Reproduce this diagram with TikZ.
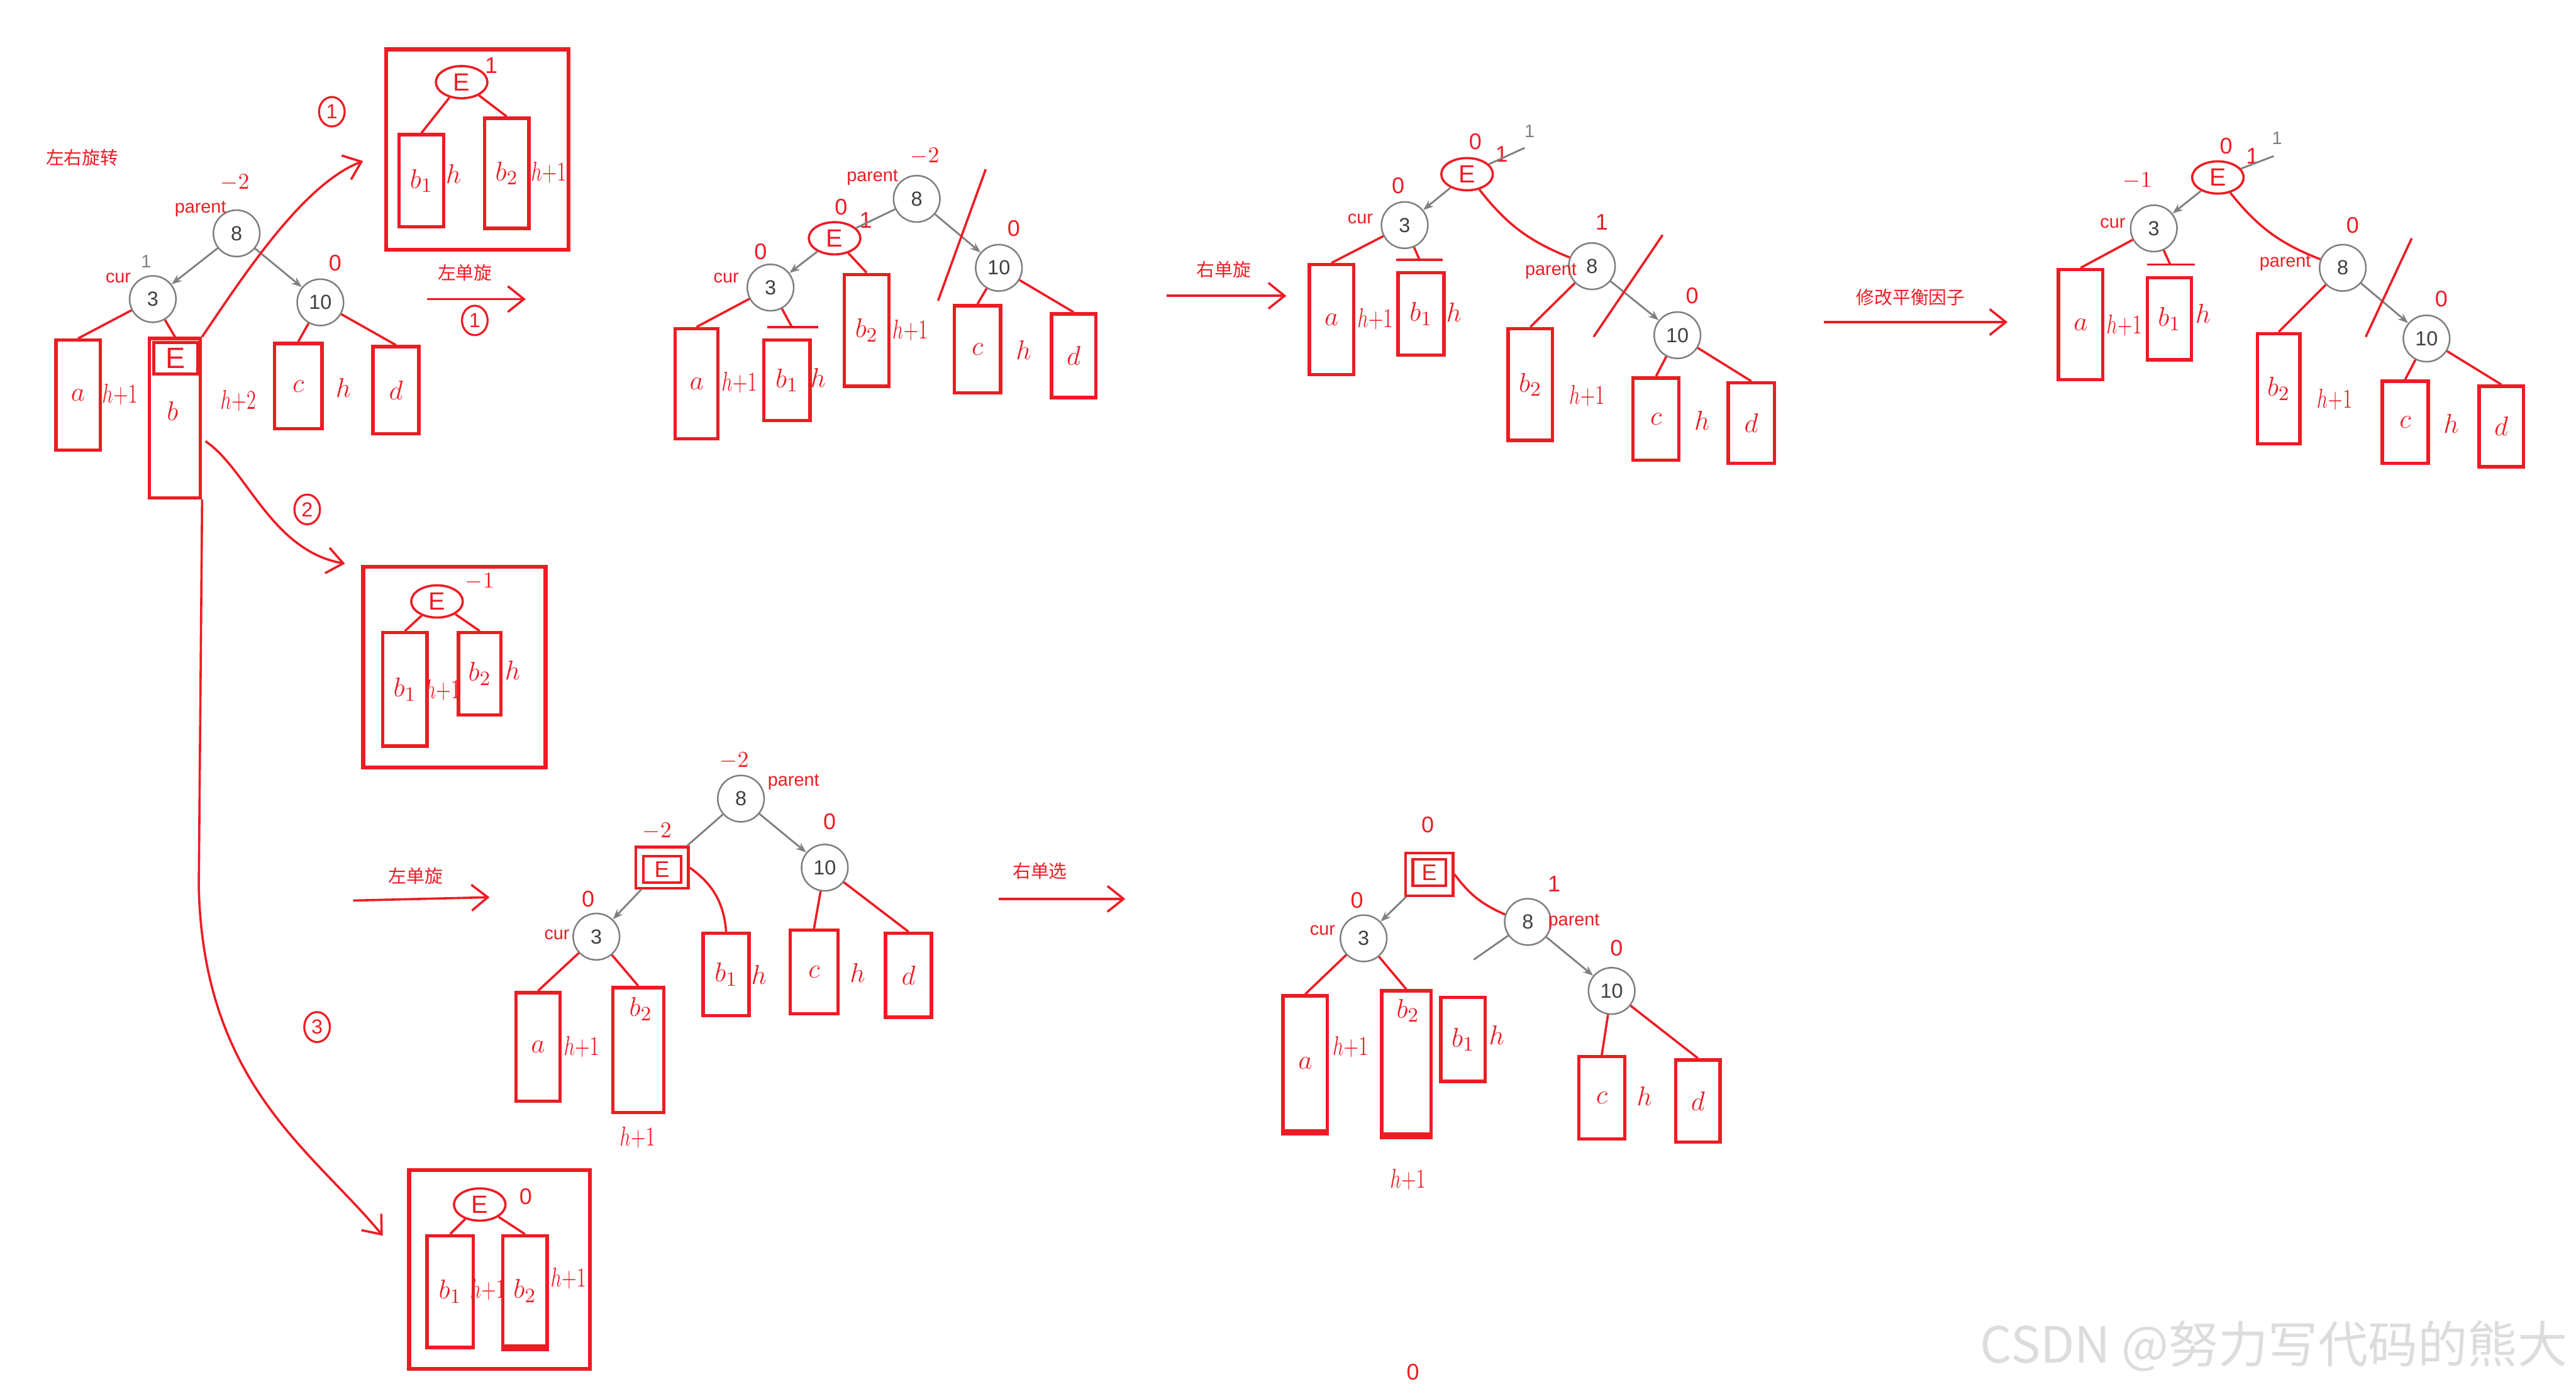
\documentclass[tikz,border=0pt]{standalone}
\usepackage{fontspec}
\usepackage{graphicx}
\setmainfont{Liberation Sans}
\newfontfamily\cjk{Noto Sans CJK SC}
\usetikzlibrary{arrows.meta,shapes.geometric}
\definecolor{pen}{HTML}{ED1C24}
\definecolor{ring}{HTML}{7F7F7F}
\definecolor{mark}{HTML}{DCDCDC}
\newcommand{\hpo}{\scalebox{0.72}[1]{$h{+}1$}}
\newcommand{\hpt}{\scalebox{0.72}[1]{$h{+}2$}}

\begin{document}
\begin{tikzpicture}[x=0.255mm,y=-0.255mm,
  sz/.style 2 args={minimum width=#1*0.255mm,minimum height=#2*0.255mm},
  num/.style={circle,draw=ring,line width=0.7pt,fill=white,minimum size=7.2mm,inner sep=0pt,font=\fontsize{9}{9}\selectfont,text=black!75},
  sub/.style={rectangle,draw=pen,line width=1.5pt,inner sep=0pt,text=pen,font=\fontsize{13}{13}\selectfont},
  frame/.style={rectangle,draw=pen,line width=1.8pt,inner sep=0pt},
  oval/.style={ellipse,draw=pen,line width=1pt,inner sep=0.5pt,minimum width=8mm,minimum height=5mm,text=pen,font=\fontsize{11}{11}\selectfont},
  tag/.style={text=pen,font=\fontsize{8}{8}\selectfont,inner sep=1pt},
  bf/.style={text=pen,font=\fontsize{10}{10}\selectfont,inner sep=1pt},
  hw/.style={text=pen,font=\fontsize{13}{13}\selectfont,inner sep=1pt},
  circno/.style={ellipse,draw=pen,line width=0.9pt,inner sep=1.5pt,text=pen,font=\fontsize{9}{9}\selectfont},
  link/.style={draw=pen,line width=1pt},
  ptr/.style={draw=ring,line width=0.8pt,-{Stealth[length=1.6mm]}},
  flow/.style={draw=pen,line width=1pt,-{Straight Barb[length=2.5mm,width=4mm]}}]
\useasboundingbox (0,0) rectangle (1568,845);

% start tree
\node[tag] (title) at (50,96) {\cjk 左右旋转};
\node[num] (p1) at (144,142) {8};
\node[num] (c1) at (93,182) {3};
\node[num] (r1) at (195,184) {10};
\node[tag] (lp1) at (122,127) {parent};
\node[tag] (lc1) at (72,169) {cur};
\node[bf] (f8a) at (143,111) {$-2$};
\node[tag,text=ring] (f3a) at (89,159) {1};
\node[bf] (f10a) at (204,160) {0};
\node[sub,sz={27}{67}] (a1) at (47.5,240.5) {$a$};
\node[sub,sz={31}{97}] (b1) at (106.5,254.5) {};
\node[sub,sz={27}{19}] (e1) at (107,218) {E};
\node[sub,draw=none] (b1t) at (105,250) {$b$};
\node[sub,sz={29}{52}] (cc1) at (181.5,235) {$c$};
\node[sub,sz={28}{53}] (d1) at (241,237.5) {$d$};
\node[hw] (ha1) at (73,240) {\hpo};
\node[hw] (hb1) at (145,244) {\hpt};
\node[hw] (hc1) at (209,236) {$h$};
\draw[ptr] (p1) -- (c1); \draw[ptr] (p1) -- (r1);
\draw[link] (c1) -- (a1.north); \draw[link] (c1) -- (b1.north);
\draw[link] (r1) -- (cc1.north); \draw[link] (r1) -- (d1.north);

% case 1
\node[frame,sz={111}{122}] (fr1) at (290.5,91) {};
\node[oval] (ea) at (281,50) {E};
\node[bf] (fea) at (299,40) {1};
\node[sub,sz={27}{56}] (b11) at (256.5,110) {$b_1$};
\node[sub,sz={27}{67}] (b12) at (308.5,105.5) {$b_2$};
\node[hw] (h11) at (276,106) {$h$};
\node[hw] (h12) at (334,105) {\hpo};
\draw[link] (ea) -- (b11.north); \draw[link] (ea) -- (b12.north);
\node[circno] (n1) at (202,68) {1};
\coordinate (tip1) at (221,98);
\draw[flow] (b1.north east) .. controls (150,165) and (185,112) .. (tip1);

% case 2
\node[frame,sz={111}{122}] (fr2) at (276.5,406) {};
\node[oval] (eb) at (266,366) {E};
\node[bf] (feb) at (292,354) {$-1$};
\node[sub,sz={27}{69}] (b21) at (246.5,419.5) {$b_1$};
\node[sub,sz={26}{50}] (b22) at (292,410) {$b_2$};
\node[hw] (h21) at (269.5,420) {\hpo};
\node[hw] (h22) at (312,408) {$h$};
\draw[link] (eb) -- (b21.north); \draw[link] (eb) -- (b22.north);
\node[circno] (n2) at (187,310) {2};
\coordinate (tip2) at (210,343);
\draw[flow] (b1.east) ++(2,14) .. controls (150,285) and (165,335) .. (tip2);

% case 3
\node[frame,sz={110}{121}] (fr3) at (304,772.5) {};
\node[oval] (ec) at (292,733) {E};
\node[bf] (fec) at (320,728) {0};
\node[sub,sz={28}{68}] (b31) at (274,786) {$b_1$};
\node[sub,sz={27}{67}] (b32) at (319.5,785.5) {$b_2$};
\draw[pen,line width=3pt] (b32.south west) -- (b32.south east);
\node[hw] (h31) at (297,785) {\hpo};
\node[hw] (h32) at (346,778) {\hpo};
\draw[link] (ec) -- (b31.north); \draw[link] (ec) -- (b32.north);
\node[circno] (n3) at (193,625) {3};
\coordinate (tip3) at (233,752);
\draw[flow] (b1.south east) -- (121,540) .. controls (124,660) and (190,700) .. (tip3);

% arrow to second tree
\node[tag] (lt1) at (283,166) {\cjk 左单旋};
\coordinate (s1) at (260,182); \coordinate (s1e) at (320,182);
\draw[flow] (s1) -- (s1e);
\node[circno] (n1b) at (289,195) {1};

% second tree
\node[num] (p2) at (558,121) {8};
\node[oval] (e2) at (508,145) {E};
\node[num] (c2) at (469,175) {3};
\node[num] (r2) at (608,163) {10};
\node[tag] (lp2) at (531,108) {parent};
\node[tag] (lc2) at (442,169) {cur};
\node[bf] (f8b) at (563,95) {$-2$};
\node[bf] (feb2) at (527,134) {1};
\node[bf] (feb3) at (512,126) {0};
\node[bf] (f3b) at (463,153) {0};
\node[bf] (f10b) at (617,139) {0};
\draw[draw=ring,line width=0.8pt] (p2) -- (e2); \draw[ptr] (e2) -- (c2); \draw[ptr] (p2) -- (r2);
\draw[link] (600,103) -- (571,183);
\node[sub,sz={26}{67}] (a2) at (424,233.5) {$a$};
\node[sub,sz={28}{49}] (b21x) at (479,231.5) {$b_1$};
\node[sub,sz={27}{68}] (b22x) at (527.5,201) {$b_2$};
\node[sub,sz={28}{53}] (cc2) at (595,212.5) {$c$};
\node[sub,sz={27}{51}] (d2) at (653.5,216.5) {$d$};
\coordinate (bar2) at (482,199);
\draw[link] (bar2) ++(-15,0) -- ++(31,0);
\node[hw] (ha2) at (450,233) {\hpo};
\node[hw] (hb2) at (498,230) {$h$};
\node[hw] (hc2) at (554,201) {\hpo};
\node[hw] (hd2) at (623,213) {$h$};
\draw[link] (c2) -- (a2.north); \draw[link] (c2) -- (bar2);
\draw[link] (e2) -- (b22x.north);
\draw[link] (r2) -- (cc2.north); \draw[link] (r2) -- (d2.north);

% arrow to third tree
\node[tag] (lt2) at (745,164) {\cjk 右单旋};
\coordinate (s2) at (710,180); \coordinate (s2e) at (783,180);
\draw[flow] (s2) -- (s2e);

% third tree
\node[oval] (e3) at (893,106) {E};
\node[num] (c3) at (855,137) {3};
\node[num] (p3) at (969,162) {8};
\node[num] (r3) at (1021,204) {10};
\node[tag] (lp3) at (944,165) {parent};
\node[tag] (lc3) at (828,133) {cur};
\node[bf] (fe3) at (898,86) {0};
\node[bf] (fe3b) at (914,94) {1};
\node[tag,text=ring] (fg3) at (931,80) {1};
\node[bf] (f3c) at (851,113) {0};
\node[bf] (f8c) at (975,135) {1};
\node[bf] (f10c) at (1030,180) {0};
\coordinate (up3) at (928,90);
\draw[draw=ring,line width=0.8pt] (e3) -- (up3);
\draw[ptr] (e3) -- (c3); \draw[ptr] (p3) -- (r3);
\draw[link] (e3) to[bend right=15] (p3);
\draw[link] (1012,143) -- (970,205);
\node[sub,sz={27}{67}] (a3) at (810.5,194.5) {$a$};
\node[sub,sz={28}{50}] (b31x) at (865,191) {$b_1$};
\node[sub,sz={27}{68}] (b32x) at (931.5,234) {$b_2$};
\node[sub,sz={28}{50}] (cc3) at (1008,255) {$c$};
\node[sub,sz={28}{49}] (d3) at (1066,257.5) {$d$};
\coordinate (bar3) at (864,158);
\draw[link] (bar3) ++(-14,0) -- ++(28,0);
\node[hw] (ha3) at (837,194) {\hpo};
\node[hw] (hb3) at (885,190) {$h$};
\node[hw] (hc3) at (966,241) {\hpo};
\node[hw] (hd3) at (1036,256) {$h$};
\draw[link] (c3) -- (a3.north); \draw[link] (c3) -- (bar3);
\draw[link] (p3) -- (b32x.north);
\draw[link] (r3) -- (cc3.north); \draw[link] (r3) -- (d3.north);

% arrow to fourth tree
\node[tag] (lt3) at (1163,181) {\cjk 修改平衡因子};
\coordinate (s3) at (1110,196); \coordinate (s3e) at (1222,196);
\draw[flow] (s3) -- (s3e);

% fourth tree
\node[oval] (e4) at (1350,108) {E};
\node[num] (c4) at (1311,139) {3};
\node[num] (p4) at (1426,163) {8};
\node[num] (r4) at (1477,206) {10};
\node[tag] (lp4) at (1391,160) {parent};
\node[tag] (lc4) at (1286,136) {cur};
\node[bf] (fe4) at (1355,89) {0};
\node[bf] (fe4b) at (1371,95) {1};
\node[tag,text=ring] (fg4) at (1386,84) {1};
\node[bf] (f3d) at (1301,110) {$-1$};
\node[bf] (f8d) at (1432,137) {0};
\node[bf] (f10d) at (1486,182) {0};
\coordinate (up4) at (1384,95);
\draw[draw=ring,line width=0.8pt] (e4) -- (up4);
\draw[ptr] (e4) -- (c4); \draw[ptr] (p4) -- (r4);
\draw[link] (e4) to[bend right=15] (p4);
\draw[link] (1468,145) -- (1440,205);
\node[sub,sz={27}{67}] (a4) at (1266.5,197.5) {$a$};
\node[sub,sz={27}{50}] (b41x) at (1320.5,194) {$b_1$};
\node[sub,sz={26}{67}] (b42x) at (1387,236.5) {$b_2$};
\node[sub,sz={28}{50}] (cc4) at (1464,257) {$c$};
\node[sub,sz={27}{49}] (d4) at (1522.5,259.5) {$d$};
\coordinate (bar4) at (1321,161);
\draw[link] (bar4) ++(-14,0) -- ++(29,0);
\node[hw] (ha4) at (1293,198) {\hpo};
\node[hw] (hb4) at (1341,191) {$h$};
\node[hw] (hc4) at (1421,243) {\hpo};
\node[hw] (hd4) at (1492,258) {$h$};
\draw[link] (c4) -- (a4.north); \draw[link] (c4) -- (bar4);
\draw[link] (p4) -- (b42x.north);
\draw[link] (r4) -- (cc4.north); \draw[link] (r4) -- (d4.north);

% second row, after left rotation
\node[tag] (lt4) at (253,533) {\cjk 左单旋};
\coordinate (s4) at (215,548); \coordinate (s4e) at (298,546);
\draw[flow] (s4) -- (s4e);
\node[num] (p5) at (451,486) {8};
\node[sub,sz={23}{16},line width=1.2pt,font=\fontsize{10}{10}\selectfont] (e5) at (403,529) {E};
\node[frame,sz={32}{25},line width=1.2pt] (e5o) at (403,528) {};
\node[num] (r5) at (502,528) {10};
\node[num] (c5) at (363,570) {3};
\node[tag] (lp5) at (483,476) {parent};
\node[tag] (lc5) at (339,569) {cur};
\node[bf] (f8e) at (447,463) {$-2$};
\node[bf] (fe5) at (400,506) {$-2$};
\node[bf] (f10e) at (505,500) {0};
\node[bf] (f3e) at (358,547) {0};
\draw[draw=ring,line width=0.8pt] (p5) -- (e5o); \draw[ptr] (p5) -- (r5); \draw[ptr] (e5o) -- (c5);
\node[sub,sz={27}{66}] (a5) at (327.5,637) {$a$};
\node[sub,sz={31}{76}] (b52) at (388.5,639) {};
\node[sub,draw=none] (b52t) at (390,614) {$b_2$};
\node[sub,sz={28}{50}] (b51) at (442,593) {$b_1$};
\node[sub,sz={29}{51}] (cc5) at (495.5,591.5) {$c$};
\node[sub,sz={28}{51}] (d5) at (553,593.5) {$d$};
\node[hw] (ha5) at (354,637) {\hpo};
\node[hw] (hb5) at (388,692) {\hpo};
\node[hw] (hc5) at (462,593) {$h$};
\node[hw] (hd5) at (522,592) {$h$};
\draw[link] (c5) -- (a5.north); \draw[link] (c5) -- (b52.north);
\draw[link] (e5o.east) to[bend left=25] (b51.north);
\draw[link] (r5) -- (cc5.north); \draw[link] (r5) -- (d5.north);

% second row, after right rotation
\node[tag] (lt5) at (633,530) {\cjk 右单选};
\coordinate (s5) at (608,547); \coordinate (s5e) at (685,547);
\draw[flow] (s5) -- (s5e);
\node[sub,sz={20}{16},line width=1.2pt,font=\fontsize{10}{10}\selectfont] (e6) at (870,531) {E};
\node[frame,sz={29}{26},line width=1.2pt] (e6o) at (870,532) {};
\node[num] (c6) at (830,571) {3};
\node[num] (p6) at (930,561) {8};
\node[num] (r6) at (981,603) {10};
\node[tag] (lp6) at (958,561) {parent};
\node[tag] (lc6) at (805,566) {cur};
\node[bf] (fe6) at (869,502) {0};
\node[bf] (f3f) at (826,548) {0};
\node[bf] (f8f) at (946,538) {1};
\node[bf] (f10f) at (984,577) {0};
\coordinate (cut6) at (897,584);
\draw[ptr] (e6o) -- (c6); \draw[ptr] (p6) -- (r6);
\draw[draw=ring,line width=0.8pt] (p6) -- (cut6);
\draw[link] (e6o.east) to[bend right=15] (p6);
\node[sub,sz={27}{82}] (a6) at (794.5,647) {$a$};
\node[sub,sz={30}{87}] (b62) at (856,646.5) {};
\node[sub,draw=none] (b62t) at (857,615) {$b_2$};
\node[sub,sz={27}{51}] (b61) at (890.5,632.5) {$b_1$};
\node[sub,sz={28}{50}] (cc6) at (975,668) {$c$};
\node[sub,sz={27}{50}] (d6) at (1033.5,670) {$d$};
\draw[pen,line width=3pt] (a6.south west) -- (a6.south east);
\draw[pen,line width=3pt] (b62.south west) -- (b62.south east);
\node[hw] (ha6) at (822,637) {\hpo};
\node[hw] (hb6) at (857,718) {\hpo};
\node[hw] (hc6) at (911,630) {$h$};
\node[hw] (hd6) at (1001,667) {$h$};
\draw[link] (c6) -- (a6.north); \draw[link] (c6) -- (b62.north);
\draw[link] (r6) -- (cc6.north); \draw[link] (r6) -- (d6.north);
\node[bf] (z6) at (860,835) {0};

\node[text=mark,font=\cjk\fontsize{22}{22}\selectfont] (wm) at (1384,819) {CSDN @努力写代码的熊大};
\end{tikzpicture}
\end{document}
